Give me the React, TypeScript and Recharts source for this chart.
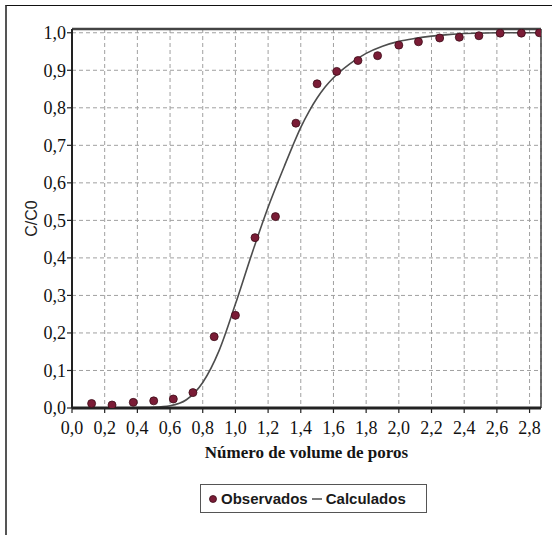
import React from 'react';
import {
  ComposedChart,
  Line,
  Scatter,
  XAxis,
  YAxis,
  CartesianGrid,
  ReferenceLine,
} from 'recharts';

// Observed points (Observados)
const obsX = [0.12, 0.245, 0.375, 0.5, 0.62, 0.74, 0.87, 1.0, 1.12, 1.245, 1.37, 1.5, 1.62, 1.75, 1.87, 2.0, 2.12, 2.25, 2.37, 2.49, 2.62, 2.75, 2.86];
const obsY = [0.012, 0.008, 0.015, 0.019, 0.024, 0.041, 0.19, 0.247, 0.454, 0.51, 0.759, 0.864, 0.897, 0.926, 0.939, 0.967, 0.976, 0.986, 0.988, 0.992, 0.999, 0.999, 1.0];

// Calculated curve (Calculados)
const calcX = [0, 0.1, 0.2, 0.3, 0.4, 0.5, 0.6, 0.7, 0.8, 0.9, 1.0, 1.1, 1.2, 1.3, 1.35, 1.4, 1.45, 1.5, 1.55, 1.6, 1.7, 1.8, 1.9, 2.0, 2.1, 2.2, 2.3, 2.4, 2.5, 2.6, 2.7, 2.8, 2.87];
const calcY = [0, 0, 0, 0, 0.001, 0.002, 0.006, 0.022, 0.068, 0.153, 0.277, 0.41, 0.535, 0.645, 0.698, 0.748, 0.79, 0.826, 0.856, 0.88, 0.917, 0.945, 0.964, 0.977, 0.985, 0.991, 0.995, 0.998, 0.999, 1.0, 1.0, 1.0, 1.0];

const xTicks = [0, 0.2, 0.4, 0.6, 0.8, 1.0, 1.2, 1.4, 1.6, 1.8, 2.0, 2.2, 2.4, 2.6, 2.8];
const yTicks = [0, 0.1, 0.2, 0.3, 0.4, 0.5, 0.6, 0.7, 0.8, 0.9, 1.0];

const X_MAX = 2.87;
const Y_MAX = 1.01;

const obsData = obsX.map((x, i) => ({ x, y: obsY[i] }));
const calcData = calcX.map((x, i) => ({ x, y: calcY[i] }));

const fmt = (v: number) => v.toFixed(1).replace('.', ',');

const serif = '"Liberation Serif", "Times New Roman", serif';
const sans = '"Liberation Sans", Arial, sans-serif';

const DOT_FILL = '#7a1c36';
const DOT_STROKE = '#3c0c18';
const LINE_COLOR = '#4d4d4d';

const Dot = (props: any) => {
  const { cx, cy } = props;
  if (cx == null || cy == null) return null;
  return <circle cx={cx} cy={cy} r={4} fill={DOT_FILL} stroke={DOT_STROKE} strokeWidth={0.8} />;
};

const LegendBox = () => (
  <div
    style={{
      position: 'absolute',
      left: 200,
      top: 484,
      width: 225,
      height: 27,
      border: '1px solid #555',
      boxSizing: 'content-box',
      display: 'flex',
      alignItems: 'center',
      fontFamily: sans,
      fontWeight: 'bold',
      fontSize: 15,
      color: '#1a1a1a',
      whiteSpace: 'nowrap',
    }}
  >
    <svg width={20} height={27} style={{ display: 'block' }}>
      <circle cx={12} cy={14} r={3.5} fill={DOT_FILL} stroke={DOT_STROKE} strokeWidth={0.8} />
    </svg>
    <span>Observados</span>
    <svg width={18} height={27} style={{ display: 'block' }}>
      <line x1={4} y1={14} x2={14} y2={14} stroke={LINE_COLOR} strokeWidth={1.5} />
    </svg>
    <span>Calculados</span>
  </div>
);

export default function App() {
  return (
    <div style={{ position: 'absolute', left: 0, top: 0, width: 552, height: 535, background: '#fff' }}>
      <div
        style={{
          position: 'absolute',
          left: 5,
          top: 5,
          width: 547,
          height: 530,
          borderLeft: '2px solid #555',
          borderTop: '1.5px solid #111',
          boxSizing: 'border-box',
        }}
      />
      <div style={{ position: 'absolute', left: 0, top: 0 }}>
        <ComposedChart width={552} height={535} margin={{ top: 29, right: 11, bottom: 97, left: 12 }}>
          <CartesianGrid stroke="#a0a0a0" strokeDasharray="4 3" strokeWidth={1} />
          <XAxis
            dataKey="x"
            type="number"
            domain={[0, X_MAX]}
            ticks={xTicks}
            tickFormatter={fmt}
            allowDataOverflow
            height={30}
            axisLine={{ stroke: '#222', strokeWidth: 3 }}
            tickLine={{ stroke: '#222', strokeWidth: 1.2 }}
            tickSize={5}
            tickMargin={8}
            tick={{ fontFamily: serif, fontSize: 18, fill: '#111' }}
            label={{
              value: 'Número de volume de poros',
              position: 'bottom',
              offset: 8,
              style: { fontFamily: serif, fontSize: 17, fill: '#151515', fontWeight: 'bold' },
            }}
          />
          <YAxis
            dataKey="y"
            type="number"
            domain={[0, Y_MAX]}
            ticks={yTicks}
            tickFormatter={fmt}
            allowDataOverflow
            width={60}
            axisLine={{ stroke: '#222', strokeWidth: 2 }}
            tickLine={{ stroke: '#222', strokeWidth: 1.2 }}
            tickSize={5}
            tickMargin={1}
            tick={{ fontFamily: serif, fontSize: 18, fill: '#111' }}
            label={{
              content: (p: any) => {
                const vb = p.viewBox || {};
                const cx = vb.x + 19;
                const cy = vb.y + vb.height / 2;
                return (
                  <text
                    x={cx}
                    y={cy}
                    transform={`rotate(-90 ${cx} ${cy})`}
                    textAnchor="middle"
                    dominantBaseline="central"
                    fontFamily={sans}
                    fontSize={16}
                    fill="#222"
                  >
                    C/C0
                  </text>
                );
              },
            }}
          />
          <ReferenceLine y={Y_MAX} stroke="#444" strokeWidth={2.5} ifOverflow="visible" />
          <ReferenceLine x={X_MAX} stroke="#444" strokeWidth={1.5} ifOverflow="visible" />
          <Line
            data={calcData}
            dataKey="y"
            type="monotone"
            stroke={LINE_COLOR}
            strokeWidth={1.6}
            dot={false}
            activeDot={false}
            isAnimationActive={false}
            name="Calculados"
          />
          <Scatter
            data={obsData}
            dataKey="y"
            shape={Dot}
            isAnimationActive={false}
            name="Observados"
          />
        </ComposedChart>
      </div>
      <LegendBox />
    </div>
  );
}
